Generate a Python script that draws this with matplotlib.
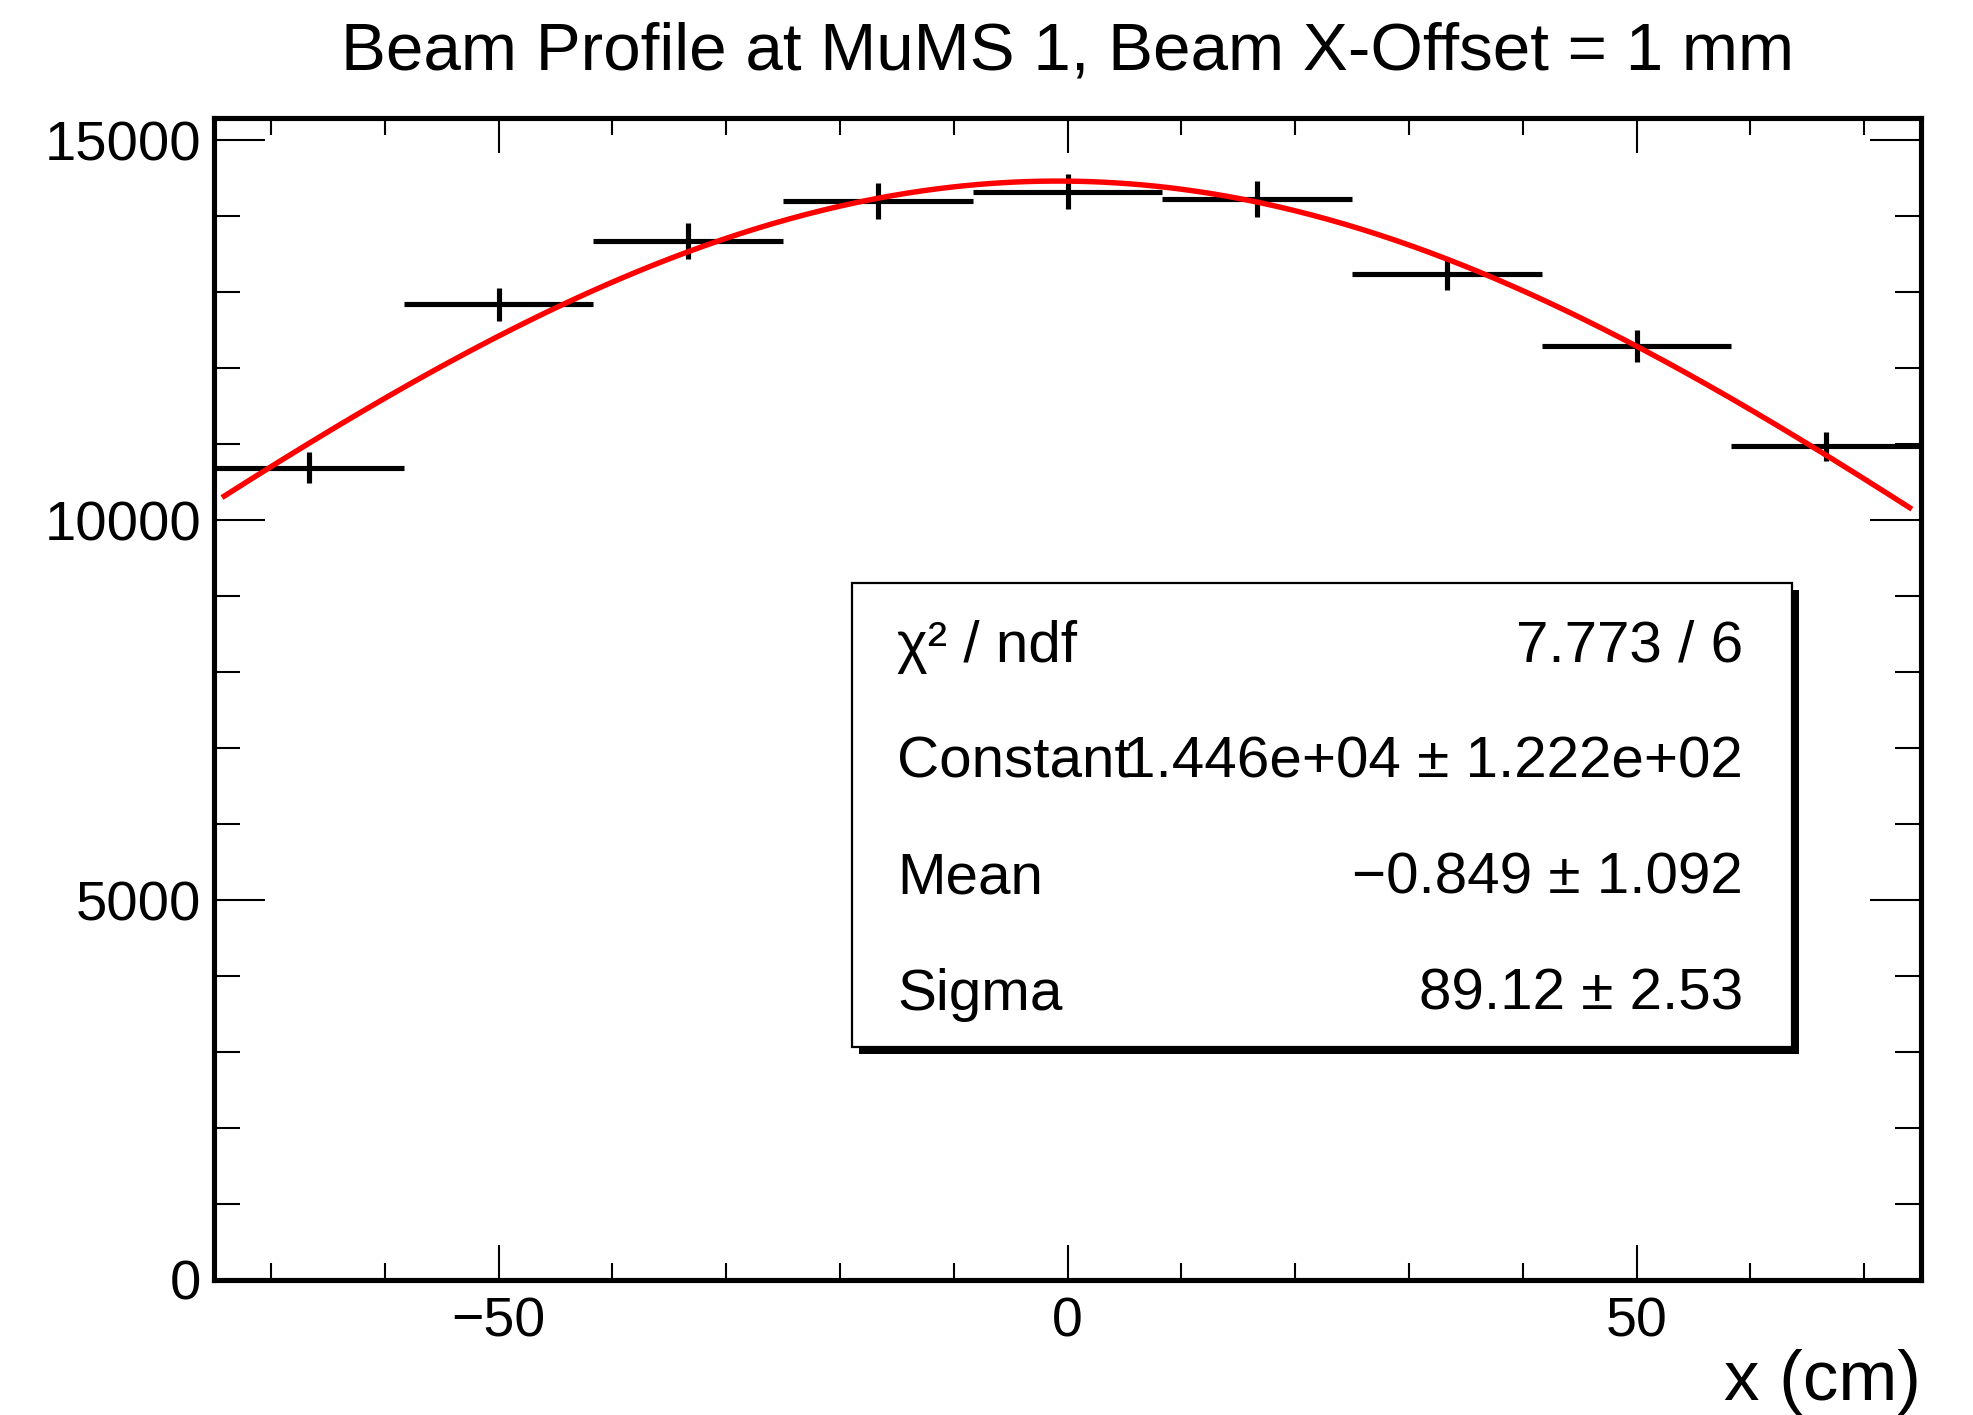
import numpy as np
import matplotlib
matplotlib.use("Agg")
import matplotlib.pyplot as plt
from matplotlib.ticker import MultipleLocator, FixedLocator
from matplotlib.patches import Rectangle

plt.rcParams['font.family'] = ['Liberation Sans', 'DejaVu Sans']

# ---- data ----
bin_centers = [-66.667, -50.0, -33.333, -16.667, 0.0, 16.667, 33.333, 50.0, 66.667]
bin_half_width = 8.333
counts = [10690, 12838, 13671, 14201, 14320, 14228, 13232, 12289, 10969]
count_errors = [200, 218, 232, 239, 230, 235, 208, 208, 193]

fit_constant = 1.446e4
fit_mean = -0.849
fit_sigma = 89.12
fit_range = (-74.3, 74.2)

stat_labels = ["\u03c7\u00b2 / ndf", "Constant", "Mean", "Sigma"]
stat_values = ["7.773 / 6", "1.446e+04 \u00b1 1.222e+02", "\u22120.849 \u00b1 1.092", "89.12 \u00b1 2.53"]

title = "Beam Profile at MuMS 1, Beam X-Offset = 1 mm"
xlabel = "x (cm)"

# ---- figure ----
W, H = 1973, 1415
fig = plt.figure(figsize=(W / 100, H / 100), dpi=100)
ax_l, ax_r, ax_t, ax_b = 214, 1921, 118, 1280
ax = fig.add_axes([ax_l / W, 1 - ax_b / H, (ax_r - ax_l) / W, (ax_b - ax_t) / H])

ax.set_xlim(-75, 75)
ax.set_ylim(0, 15290)

ax.errorbar(bin_centers, counts, xerr=bin_half_width, yerr=count_errors,
            fmt='none', ecolor='black', elinewidth=3.7, capsize=0, zorder=3)

xf = np.linspace(fit_range[0], fit_range[1], 400)
yf = fit_constant * np.exp(-0.5 * ((xf - fit_mean) / fit_sigma) ** 2)
ax.plot(xf, yf, color='#ff0000', lw=3.9, zorder=4, solid_capstyle='butt')

for s in ax.spines.values():
    s.set_linewidth(3.7)

ax.xaxis.set_major_locator(FixedLocator([-50, 0, 50]))
ax.xaxis.set_minor_locator(MultipleLocator(10))
ax.yaxis.set_major_locator(MultipleLocator(5000))
ax.yaxis.set_minor_locator(MultipleLocator(1000))

ax.tick_params(axis='x', which='both', direction='in', top=True, bottom=True, width=1.5)
ax.tick_params(axis='x', which='major', length=25, pad=12, labelsize=40)
ax.tick_params(axis='x', which='minor', length=12.5)
ax.tick_params(axis='y', which='both', direction='in', left=True, right=True, width=1.5)
ax.tick_params(axis='y', which='major', length=37, pad=9, labelsize=40.5)
ax.tick_params(axis='y', which='minor', length=18.5)

# title
fig.text((ax_l + ax_r) / 2 / W, 1 - 69 / H, title, ha='center', va='baseline', fontsize=48.5)

# x label, right-aligned at axis end
fig.text(ax_r / W, 1 - 1400 / H, xlabel, ha='right', va='baseline', fontsize=51)

# stat box
bx0, by0, bx1, by1 = 0.374, 0.2005, 0.9245, 0.600
sh_dx = 7 / (ax_r - ax_l)
sh_dy = 7 / (ax_b - ax_t)
ax.add_patch(Rectangle((bx0 + sh_dx, by0 - sh_dy), bx1 - bx0, by1 - by0,
                       transform=ax.transAxes, facecolor='black', edgecolor='black',
                       lw=0, zorder=5))
ax.add_patch(Rectangle((bx0, by0), bx1 - bx0, by1 - by0, transform=ax.transAxes,
                       facecolor='white', edgecolor='black', lw=1.6, zorder=6))
n = len(stat_labels)
row_h = (by1 - by0) / n
lx = bx0 + 45 / (ax_r - ax_l)
rx = bx1 - 49 / (ax_r - ax_l)
for i, (lab, val) in enumerate(zip(stat_labels, stat_values)):
    yc = by1 - (i + 0.5) * row_h
    ax.text(lx, yc, lab, transform=ax.transAxes, ha='left', va='center_baseline',
            fontsize=42, zorder=7)
    ax.text(rx, yc, val, transform=ax.transAxes, ha='right', va='center_baseline',
            fontsize=42, zorder=7)

fig.savefig("out.png", dpi=100)
